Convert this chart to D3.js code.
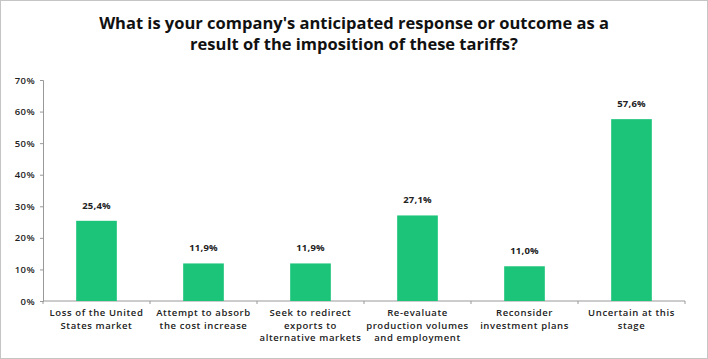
<!DOCTYPE html>
<html><head><meta charset="utf-8">
<script src="https://cdn.jsdelivr.net/npm/d3@7"></script>
<style>body{margin:0;background:#fff}svg{display:block}</style>
</head><body>
<script>
const categories = [
  ["Loss of the United", "States market"],
  ["Attempt to absorb", "the cost increase"],
  ["Seek to redirect", "exports to", "alternative markets"],
  ["Re-evaluate", "production volumes", "and employment"],
  ["Reconsider", "investment plans"],
  ["Uncertain at this", "stage"]
];
const values = [25.4, 11.9, 11.9, 27.1, 11.0, 57.6];
const valueLabels = ["25,4%", "11,9%", "11,9%", "27,1%", "11,0%", "57,6%"];
const yTicks = [0, 10, 20, 30, 40, 50, 60, 70];
const titleLines = ["What is your company's anticipated response or outcome as a", "result of the imposition of these tariffs?"];

(function () {
const W = 708, H = 359;
const FONT = "'Open Sans', sans-serif";
const svg = d3.select("body").append("svg").attr("width", W).attr("height", H);
svg.append("rect").attr("x", 0.5).attr("y", 0.5).attr("width", W - 1).attr("height", H - 1)
  .attr("fill", "#fff").attr("stroke", "#8a8a8a").attr("stroke-dasharray", "1,1");

const mLeft = 43, mRight = 685, mTop = 80, mBottom = 301;
const x = d3.scaleBand().domain(d3.range(values.length)).range([mLeft, mRight]).paddingInner(0.62).paddingOuter(0.31);
const y = d3.scaleLinear().domain([0, 70]).range([mBottom, mTop]);

svg.append("g").selectAll("text").data(titleLines).join("text")
  .attr("x", 354).attr("y", (d, i) => 29 + i * 21)
  .attr("text-anchor", "middle").attr("font-family", FONT)
  .attr("font-weight", "bold").attr("font-size", 16.5).attr("fill", "#111").text(d => d);

const yAxis = svg.append("g").attr("transform", `translate(${mLeft},0)`)
  .call(d3.axisLeft(y).tickValues(yTicks).tickFormat(d => d + "%").tickSize(3).tickPadding(5));
yAxis.select(".domain").attr("stroke", "#999");
yAxis.selectAll(".tick line").attr("stroke", "#999");
yAxis.selectAll("text").attr("font-family", FONT).attr("font-size", 9.5).attr("letter-spacing", 0.4)
  .attr("font-weight", 600).attr("fill", "#222");

const n = values.length;
const xg = svg.append("g").attr("transform", `translate(0,${mBottom})`);
xg.append("line").attr("x1", mLeft).attr("x2", mRight).attr("stroke", "#999");
xg.selectAll("line.tk").data(d3.range(n + 1)).join("line").attr("class", "tk")
  .attr("x1", i => mLeft + i * (mRight - mLeft) / n).attr("x2", i => mLeft + i * (mRight - mLeft) / n)
  .attr("y1", 0).attr("y2", 3).attr("stroke", "#999");

svg.append("g").selectAll("rect").data(values).join("rect")
  .attr("x", (d, i) => x(i)).attr("width", x.bandwidth())
  .attr("y", d => y(d)).attr("height", d => mBottom - y(d)).attr("fill", "#1cc47a");

svg.append("g").selectAll("text").data(values).join("text")
  .attr("x", (d, i) => x(i) + x.bandwidth() / 2).attr("y", d => y(d) - 12)
  .attr("text-anchor", "middle").attr("font-family", FONT).attr("font-weight", "bold")
  .attr("font-size", 9.5).attr("letter-spacing", 0.2).attr("fill", "#222").text((d, i) => valueLabels[i]);

const cg = svg.append("g").selectAll("text").data(categories).join("text")
  .attr("x", (d, i) => x(i) + x.bandwidth() / 2).attr("y", 316)
  .attr("text-anchor", "middle").attr("font-family", FONT).attr("font-weight", 600)
  .attr("font-size", 9.5).attr("letter-spacing", 0.6).attr("fill", "#222");
cg.selectAll("tspan").data(d => d).join("tspan")
  .attr("x", function () { return d3.select(this.parentNode).attr("x"); })
  .attr("dy", (d, i) => i === 0 ? 0 : 12.5).text(d => d);
})();
</script>
</body></html>
